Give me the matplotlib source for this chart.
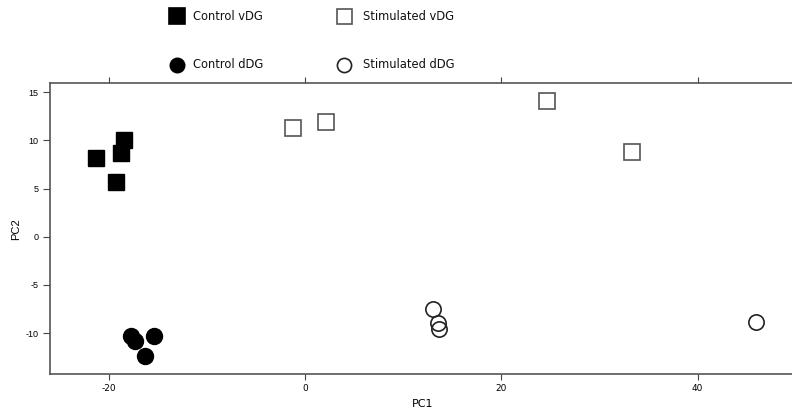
import matplotlib
matplotlib.use("Agg")
import matplotlib.pyplot as plt
from matplotlib.lines import Line2D

# Data (PC1, PC2)
control_vdg_pc1 = [-21.3, -18.5, -18.8, -19.3]
control_vdg_pc2 = [8.2, 10.0, 8.7, 5.7]
control_ddg_pc1 = [-17.8, -17.4, -15.4, -16.3]
control_ddg_pc2 = [-10.3, -10.8, -10.3, -12.4]
stim_vdg_pc1 = [-1.3, 2.1, 24.7, 33.3]
stim_vdg_pc2 = [11.3, 11.9, 14.1, 8.8]
stim_ddg_pc1 = [13.0, 13.5, 13.6, 46.0]
stim_ddg_pc2 = [-7.5, -8.9, -9.6, -8.8]

labels = ["Control vDG", "Control dDG", "Stimulated vDG", "Stimulated dDG"]
xticks = [-20, 0, 20, 40]
yticks = [-10, -5, 0, 5, 10, 15]

fig = plt.figure(figsize=(7.92, 4.08), dpi=100)
L = 49.5 / 792
R = 796 / 792
B = (408 - 374.3) / 408
T = (408 - 83.0) / 408
ax = fig.add_axes([L, B, R - L, T - B])

ms = 11.5
ax.plot(control_vdg_pc1, control_vdg_pc2, ls="none", marker="s", ms=ms,
        mfc="black", mec="black")
ax.plot(control_ddg_pc1, control_ddg_pc2, ls="none", marker="o", ms=ms,
        mfc="black", mec="black")
ax.plot(stim_vdg_pc1, stim_vdg_pc2, ls="none", marker="s", ms=ms - 0.5,
        mfc="none", mec="#555555", mew=1.2)
ax.plot(stim_ddg_pc1, stim_ddg_pc2, ls="none", marker="o", ms=ms - 0.5,
        mfc="none", mec="#222222", mew=1.2)

ax.set_xlim(-26.08, 50.04)
ax.set_ylim(-14.27, 15.96)
ax.set_xticks(xticks)
ax.set_yticks(yticks)
ax.set_xticklabels([str(v) for v in xticks], family="Liberation Sans Narrow", fontsize=6.5)
ax.set_yticklabels([str(v) for v in yticks], family="Liberation Sans", fontsize=6.5)
ax.tick_params(direction="out", length=4, width=0.8, color="#444444",
               top=True, right=True, labeltop=False, labelright=False, pad=3)
ax.tick_params(axis="y", length=5)
for s in ax.spines.values():
    s.set_color("#555555")
    s.set_linewidth(1.2)
ax.set_xlabel("PC1", family="Liberation Sans Narrow", fontsize=8, labelpad=4)
ax.set_ylabel("PC2", family="Liberation Sans", fontsize=8, labelpad=3)

# Legend (manual, figure coordinates)
W, H = 792, 408
entries = [
    (176.7, 16, "s", "black", "black", 11.3, labels[0], 193),
    (176.7, 64.5, "o", "black", "black", 10.3, labels[1], 193),
    (344, 16, "s", "none", "#555555", 10.8, labels[2], 363),
    (344, 65, "o", "none", "#222222", 10.2, labels[3], 363),
]
for px, py, mk, fc, ec, size, lab, tx in entries:
    fig.add_artist(Line2D([px / W], [1 - py / H], transform=fig.transFigure,
                          marker=mk, ms=size, mfc=fc, mec=ec, mew=1.2, ls="none"))
    fig.text(tx / W, 1 - py / H, lab, fontsize=8.3, va="center", ha="left",
             family="DejaVu Sans", color="#111111")

fig.savefig("out.png", dpi=100)
